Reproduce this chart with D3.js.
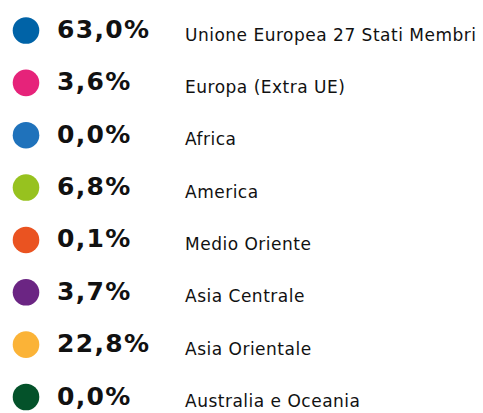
<!DOCTYPE html>
<html>
<head>
<meta charset="utf-8">
<script src="https://cdn.jsdelivr.net/npm/d3@7"></script>
<style>
  html, body { margin: 0; padding: 0; background: #fff; }
</style>
</head>
<body>
<svg id="chart"></svg>
<script>
// legend rows: region, share (%) and dot colour
const categories = ["Unione Europea 27 Stati Membri", "Europa (Extra UE)", "Africa", "America",
  "Medio Oriente", "Asia Centrale", "Asia Orientale", "Australia e Oceania"];
const values = [63.0, 3.6, 0.0, 6.8, 0.1, 3.7, 22.8, 0.0];
const colors = ["#0063a7", "#e6237a", "#1f72bb", "#97c21f", "#ea5321", "#6b2583", "#fbb337", "#04522a"];

const width = 483, height = 413;

const svg = d3.select("#chart")
  .attr("width", width)
  .attr("height", height);

// rows are evenly spaced down the page
const y = d3.scalePoint()
  .domain(categories)
  .range([30.5, 397]);

const fmt = v => d3.format(".1f")(v).replace(".", ",") + "%";

const rows = svg.selectAll("g.row")
  .data(categories.map((c, i) => ({ label: c, value: values[i], color: colors[i] })))
  .enter()
  .append("g")
  .attr("class", "row")
  .attr("transform", d => `translate(0,${y(d.label)})`);

rows.append("circle")
  .attr("cx", 26)
  .attr("cy", 0)
  .attr("r", 13.3)
  .attr("fill", d => d.color);

rows.append("text")
  .attr("x", 57)
  .attr("y", 7.5)
  .attr("font-family", "'DejaVu Sans', sans-serif")
  .attr("font-weight", "bold")
  .attr("font-size", "25px")
  .attr("letter-spacing", "1.3px")
  .attr("fill", "#111")
  .text(d => fmt(d.value));

rows.append("text")
  .attr("x", 185)
  .attr("y", 10)
  .attr("font-family", "'DejaVu Sans', sans-serif")
  .attr("font-size", "17px")
  .attr("letter-spacing", "0.5px")
  .attr("fill", "#111")
  .text(d => d.label);
</script>
</body>
</html>
